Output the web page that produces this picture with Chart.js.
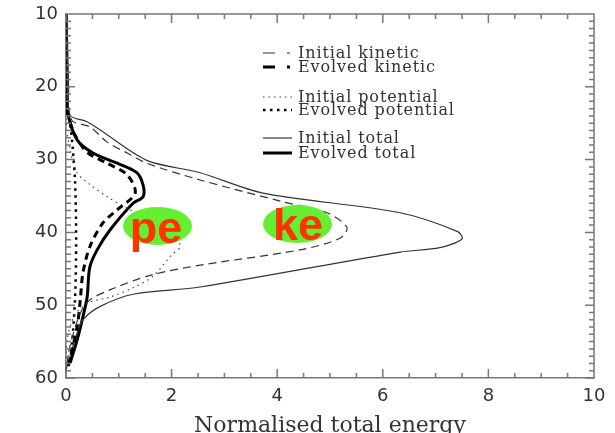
<!DOCTYPE html>
<html lang="en">
<head>
  <meta charset="UTF-8" />
  <title>Energy profiles</title>
  <script src="https://cdn.jsdelivr.net/npm/chart.js"></script>
  <style>
    html, body { margin: 0; padding: 0; background: #fff; }
    #wrap { position: relative; width: 615px; height: 433px; overflow: hidden; }
    #chart { position: absolute; left: 0; top: 0; }
    .leg { position: absolute; left: 298px; font: 16px "DejaVu Serif", serif; letter-spacing: 0.9px; color: #333; line-height: 15px; white-space: nowrap; }
    .blob { position: absolute; width: 69px; height: 38px; border-radius: 50%; background: #66ee33; }
    .tag { position: absolute; width: 80px; text-align: center; font: bold 45px "Liberation Sans", Arial, sans-serif; line-height: 45px; color: #ff3300; }
    #samples { position: absolute; left: 0; top: 0; pointer-events: none; }
  </style>
</head>
<body>
<div id="wrap">
  <canvas id="chart" width="615" height="433"></canvas>

  <!-- legend, drawn by hand like the original -->
  <svg id="samples" width="615" height="433">
    <line x1="263" y1="53" x2="292" y2="53" stroke="#333" stroke-width="1.2" stroke-dasharray="12 12 3 10"/>
    <line x1="263" y1="67" x2="292" y2="67" stroke="#000" stroke-width="3" stroke-dasharray="12 12 3 10"/>
    <line x1="263" y1="97" x2="292" y2="97" stroke="#444" stroke-width="1.2" stroke-dasharray="1.5 4"/>
    <line x1="263" y1="110" x2="292" y2="110" stroke="#000" stroke-width="2.5" stroke-dasharray="2.5 4.5"/>
    <line x1="263" y1="138" x2="292" y2="138" stroke="#333" stroke-width="1.2"/>
    <line x1="263" y1="153" x2="292" y2="153" stroke="#000" stroke-width="3"/>
  </svg>
  <div class="leg" style="top:45px">Initial kinetic</div>
  <div class="leg" style="top:59px">Evolved kinetic</div>
  <div class="leg" style="top:89px">Initial potential</div>
  <div class="leg" style="top:102px">Evolved potential</div>
  <div class="leg" style="top:130px">Initial total</div>
  <div class="leg" style="top:145px">Evolved total</div>

  <div class="blob" style="left:123px; top:207px"></div>
  <div class="blob" style="left:263px; top:205px"></div>
  <div class="tag" style="left:116px; top:205px">pe</div>
  <div class="tag" style="left:258px; top:202px">ke</div>
</div>

<script>
// depth (y, reversed) and normalised energy (x) for each curve
const initTotDepth = [10, 20, 23.9, 24.8, 25.9, 30.1, 31.8, 34.6, 37.3, 39.9, 40.9, 42.1, 42.7, 47.5, 48.5, 50.2, 52.0, 53.8, 58.9];
const initTotE     = [0.02, 0.05, 0.08, 0.4, 0.64, 1.53, 2.54, 3.73, 6.33, 7.42, 7.5, 7.08, 6.33, 2.54, 1.27, 0.64, 0.32, 0.21, 0.0];

const initKinDepth = [10, 20, 24.6, 25.5, 27.6, 29.1, 30.5, 32.8, 35.8, 37.3, 39.3, 40.8, 42.4, 44.5, 45.9, 47.9, 49.3, 51.1, 55.5, 58.9];
const initKinE     = [0.01, 0.03, 0.11, 0.45, 0.78, 1.16, 1.53, 2.54, 4.11, 4.94, 5.32, 5.19, 4.43, 2.54, 1.59, 0.83, 0.45, 0.27, 0.08, 0.0];

const initPotDepth = [10, 24.6, 28.7, 31.8, 33.4, 35.1, 36.9, 38.6, 40.4, 42.0, 43.1, 46.0, 47.6, 48.9, 49.6, 51.3, 54.8, 58.9];
const initPotE     = [0, 0, 0.08, 0.21, 0.45, 0.78, 1.21, 1.69, 2.06, 2.16, 2.0, 1.65, 1.27, 0.83, 0.45, 0.17, 0.02, 0];

const evoKinDepth = [10, 21.8, 23.9, 26.6, 29.0, 30.5, 32.1, 34.6, 36.9, 38.7, 42.0, 45.6, 49.3, 53.0, 58.5];
const evoKinE     = [0, 0, 0.04, 0.17, 0.4, 0.78, 1.16, 1.31, 0.97, 0.7, 0.45, 0.32, 0.27, 0.21, 0.04];

const evoTotDepth = [10, 21.1, 23.9, 27.3, 29.1, 30.5, 31.8, 33.5, 35.1, 36.0, 39.7, 42.4, 44.8, 48.9, 51.6, 54.8, 57.9];
const evoTotE     = [0, 0, 0.04, 0.21, 0.51, 0.97, 1.34, 1.46, 1.46, 1.27, 0.83, 0.59, 0.45, 0.4, 0.32, 0.21, 0.08];

const evoPotDepth = [10, 22.5, 25.2, 28.7, 32.8, 38.3, 43.8, 49.3, 55.5, 58.6];
const evoPotE     = [0, 0, 0.08, 0.13, 0.17, 0.19, 0.19, 0.17, 0.11, 0.04];

const xTicks = [0, 2, 4, 6, 8, 10];
const yTicks = [10, 20, 30, 40, 50, 60];

const pts = (e, d) => e.map((v, i) => ({ x: v, y: d[i] }));

function curve(label, e, d, color, width, dash) {
  return {
    label: label,
    data: pts(e, d),
    showLine: true,
    borderColor: color,
    borderWidth: width,
    borderDash: dash,
    pointRadius: 0,
    tension: 0.3,
    fill: false
  };
}

// IDL style inward ticks on all four sides + top/right frame
const frameTicks = {
  id: "frameTicks",
  afterDraw(chart) {
    const ctx = chart.ctx;
    const a = chart.chartArea;
    const sx = chart.scales.x, sy = chart.scales.y;
    ctx.save();
    ctx.setLineDash([]);
    ctx.strokeStyle = "#777";
    ctx.lineWidth = 1.5;
    ctx.beginPath();
    ctx.moveTo(a.left, a.top);
    ctx.lineTo(a.right, a.top);
    ctx.lineTo(a.right, a.bottom);
    for (let i = 0; i <= 20; i++) {
      const p = sx.getPixelForValue(i * 0.5);
      const len = i % 4 === 0 ? 9 : 5;
      ctx.moveTo(p, a.bottom); ctx.lineTo(p, a.bottom - len);
      ctx.moveTo(p, a.top); ctx.lineTo(p, a.top + len);
    }
    for (let v = 10; v <= 60; v++) {
      const p = sy.getPixelForValue(v);
      const len = v % 10 === 0 ? 9 : 5;
      ctx.moveTo(a.left, p); ctx.lineTo(a.left + len, p);
      ctx.moveTo(a.right, p); ctx.lineTo(a.right - len, p);
    }
    ctx.stroke();
    ctx.restore();
  }
};

new Chart(document.getElementById("chart"), {
  type: "scatter",
  data: {
    datasets: [
      curve("Initial kinetic", initKinE, initKinDepth, "#333", 1.2, [8, 5]),
      curve("Evolved kinetic", evoKinE, evoKinDepth, "#000", 3, [7, 5]),
      curve("Initial potential", initPotE, initPotDepth, "#444", 1.2, [1.5, 4]),
      curve("Evolved potential", evoPotE, evoPotDepth, "#000", 2.5, [2.5, 4.5]),
      curve("Initial total", initTotE, initTotDepth, "#333", 1.2, []),
      curve("Evolved total", evoTotE, evoTotDepth, "#000", 3, [])
    ]
  },
  plugins: [frameTicks],
  options: {
    responsive: false,
    animation: false,
    layout: { padding: { top: 14, right: 21, left: 0, bottom: 0 } },
    plugins: { legend: { display: false }, tooltip: { enabled: false } },
    scales: {
      x: {
        type: "linear",
        min: 0,
        max: 10,
        afterFit: s => { s.height = 55; s.paddingLeft = 0; s.paddingRight = 0; },
        afterBuildTicks: s => { s.ticks = xTicks.map(v => ({ value: v })); },
        grid: { display: false, drawTicks: false },
        border: { display: true, color: "#777", width: 1.5 },
        ticks: { color: "#333", padding: 8, font: { family: "DejaVu Sans", size: 18 } },
        title: {
          display: true,
          text: "Normalised total energy",
          color: "#333",
          font: { family: "DejaVu Serif", size: 22, lineHeight: 1 },
          padding: { top: 0, bottom: -4 }
        }
      },
      y: {
        type: "linear",
        reverse: true,
        min: 10,
        max: 60,
        afterFit: s => { s.width = 66; s.paddingTop = 0; s.paddingBottom = 0; },
        afterBuildTicks: s => { s.ticks = yTicks.map(v => ({ value: v })); },
        grid: { display: false, drawTicks: false },
        border: { display: true, color: "#777", width: 1.5 },
        ticks: { color: "#333", padding: 8, font: { family: "DejaVu Sans", size: 18 } }
      }
    }
  }
});
</script>
</body>
</html>
